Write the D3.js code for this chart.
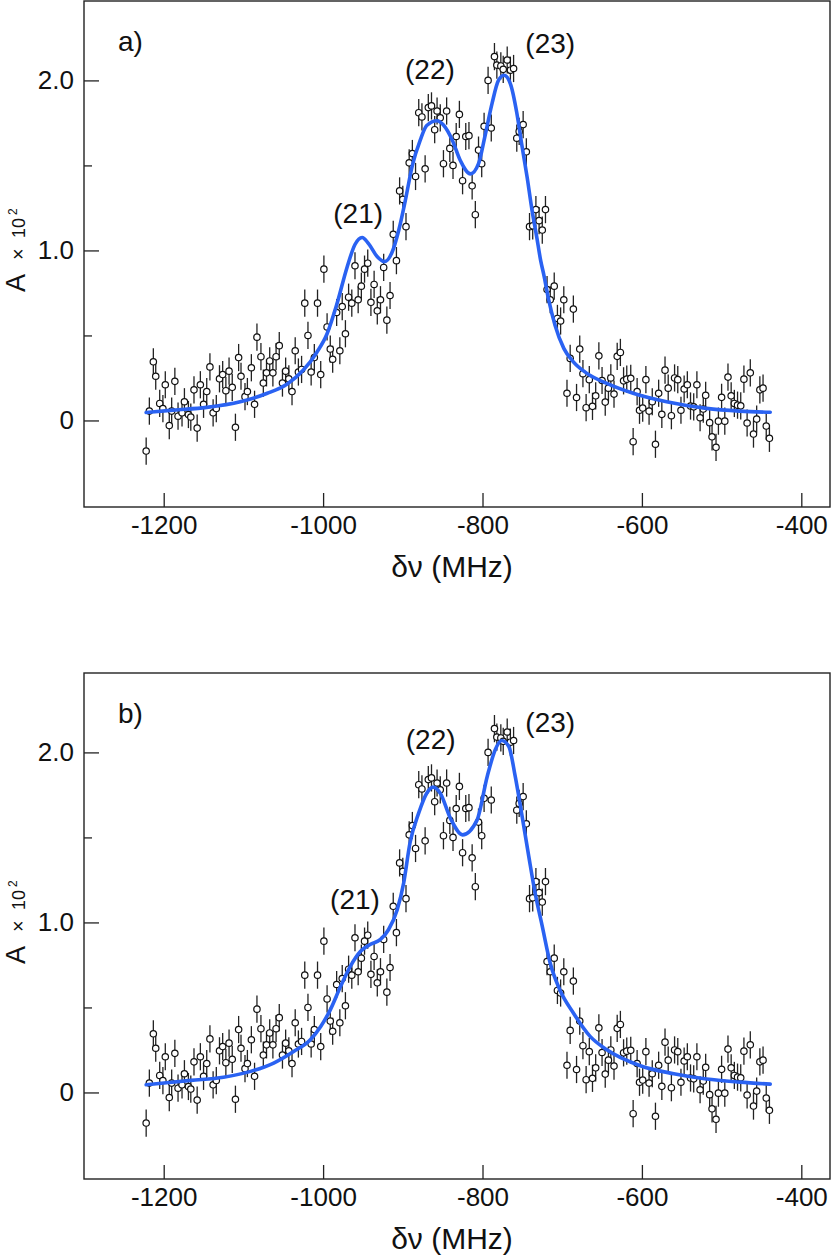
<!DOCTYPE html>
<html>
<head>
<meta charset="utf-8">
<script src="https://cdn.jsdelivr.net/npm/d3@7"></script>
<style>
  html, body { margin: 0; padding: 0; background: #fff; }
  svg { display: block; font-family: "Liberation Sans", Arial, Helvetica, sans-serif; }
</style>
</head>
<body>
<div id="chart"></div>
<script>
// Measured spectrum (same points in both panels): detuning in MHz, amplitude A x 10^2
const freq = [
  -1222, -1218, -1213, -1210, -1205, -1201, -1198, -1193, -1190, -1186,
  -1182, -1177, -1174, -1169, -1166, -1162, -1158, -1154, -1150, -1146,
  -1142, -1138, -1134, -1130, -1126, -1122, -1118, -1114, -1110, -1106,
  -1103, -1098, -1095, -1090, -1086, -1083, -1078, -1075, -1071, -1067,
  -1063, -1059, -1055, -1051, -1047, -1043, -1039, -1035, -1031, -1027,
  -1023, -1019, -1015, -1011, -1007, -1003, -999, -995, -991, -988,
  -983, -979, -976, -972, -968, -964, -960, -956, -952, -948,
  -944, -940, -936, -932, -928, -924, -920, -916, -912, -908,
  -904, -900, -896, -892, -888, -884, -880, -876, -872, -868,
  -864, -860, -857, -853, -849, -845, -841, -837, -833, -829,
  -825, -821, -817, -813, -809, -805, -801, -798, -793, -789,
  -785, -782, -777, -774, -769, -765, -761, -757, -754, -749,
  -745, -741, -737, -733, -729, -725, -721, -719, -715, -710,
  -706, -702, -698, -694, -690, -686, -682, -678, -674, -670,
  -666, -662, -658, -654, -650, -646, -642, -639, -635, -631,
  -627, -623, -619, -614, -611, -606, -603, -599, -595, -591,
  -587, -583, -579, -575, -571, -567, -563, -559, -555, -551,
  -547, -543, -539, -535, -531, -527, -523, -520, -515, -512,
  -507, -504, -500, -496, -492, -488, -484, -480, -476, -472,
  -468, -464, -460, -456, -452, -448, -444, -440
];
const amp = [
  -0.18, 0.055, 0.345, 0.26, 0.10, 0.07, 0.21, -0.03, 0.055, 0.23,
  0.025, 0.045, 0.11, 0.035, 0.02, 0.18, -0.045, 0.21, 0.095, 0.17,
  0.315, 0.045, 0.07, 0.245, 0.27, 0.175, 0.29, 0.195, -0.04, 0.37,
  0.26, 0.14, 0.17, 0.31, 0.095, 0.49, 0.375, 0.22, 0.28, 0.35,
  0.28, 0.375, 0.44, 0.22, 0.29, 0.245, 0.17, 0.41, 0.285, 0.30,
  0.69, 0.50, 0.285, 0.37, 0.69, 0.27, 0.89, 0.55, 0.42, 0.36,
  0.635, 0.41, 0.67, 0.51, 0.725, 0.69, 0.91, 0.71, 0.79, 0.89,
  0.925, 0.695, 0.80, 0.645, 0.71, 0.90, 0.59, 0.735, 1.095, 0.94,
  1.35, 1.30, 1.14, 1.515, 1.57, 1.435, 1.81, 1.785, 1.48, 1.84,
  1.85, 1.71, 1.82, 1.78, 1.51, 1.82, 1.60, 1.50, 1.67, 1.80,
  1.41, 1.67, 1.675, 1.38, 1.21, 1.59, 1.51, 1.73, 2.00, 1.72,
  2.14, 2.09, 2.085, 2.065, 2.12, 2.06, 2.07, 1.66, 1.70, 1.74,
  1.58, 1.14, 1.145, 1.24, 1.175, 1.12, 1.24, 0.77, 0.71, 0.79,
  0.60, 0.585, 0.71, 0.16, 0.365, 0.655, 0.135, 0.42, 0.275, 0.075,
  0.24, 0.083, 0.145, 0.38, 0.235, 0.108, 0.19, 0.25, 0.155, 0.377,
  0.40, 0.233, 0.243, 0.248, -0.125, 0.17, 0.06, 0.073, 0.24, 0.055,
  0.11, -0.14, 0.16, 0.036, 0.296, 0.19, 0.028, 0.25, 0.24, 0.06,
  0.185, 0.21, 0.085, 0.08, 0.21, 0.016, 0.067, 0.148, -0.013, -0.096,
  -0.158, -0.004, 0.136, -0.004, 0.255, 0.145, 0.10, 0.09, 0.086, 0.243,
  -0.015, 0.28, -0.08, 0.008, 0.18, 0.19, -0.033, -0.105
];
const errHalf = 0.08; // half length of the error bars, in A units

// Fitted curves
const fitFreqA = [-1222, -1188, -1146, -1104, -1070, -1045, -1025, -1008, -995, -983,
  -970, -960, -951, -943, -932, -923, -914, -905, -897, -888,
  -878, -870, -857, -849, -838, -828, -815, -805, -797, -788,
  -780, -773, -765, -757, -751, -744, -738, -732, -727, -723,
  -717, -709, -698, -686, -669, -644, -611, -569, -519, -477, -439];
const fitAmpA = [0.047, 0.061, 0.077, 0.11, 0.16, 0.215, 0.295, 0.40, 0.51, 0.68,
  0.90, 1.035, 1.076, 1.04, 0.963, 0.934, 0.983, 1.12, 1.29, 1.50,
  1.65, 1.735, 1.763, 1.738, 1.65, 1.53, 1.45, 1.51, 1.67, 1.865,
  2.0, 2.03, 1.98, 1.81, 1.63, 1.43, 1.24, 1.08, 0.94, 0.855,
  0.71, 0.56, 0.424, 0.345, 0.277, 0.218, 0.16, 0.11, 0.071, 0.055, 0.048];

const fitFreqB = [-1222, -1166, -1125, -1091, -1062, -1037, -1016, -1003, -991, -978,
  -966, -953, -941, -928, -918, -907, -899, -891, -880, -870,
  -862, -853, -840, -825, -807, -794, -784, -776, -767, -759,
  -751, -742, -734, -725, -715, -703, -686, -665, -644, -602,
  -560, -519, -477, -439];
const fitAmpB = [0.045, 0.071, 0.09, 0.124, 0.173, 0.241, 0.31, 0.388, 0.486, 0.624,
  0.74, 0.83, 0.87, 0.90, 0.957, 1.075, 1.23, 1.467, 1.644, 1.76,
  1.796, 1.76, 1.61, 1.515, 1.60, 1.86, 2.016, 2.07, 2.035, 1.86,
  1.644, 1.39, 1.173, 0.977, 0.76, 0.604, 0.467, 0.33, 0.251, 0.157,
  0.11, 0.079, 0.061, 0.049];

// Peak labels, anchored in data units (centre, baseline)
const peakNames = ['(21)', '(22)', '(23)'];
const peakFreqA = [-956, -866, -715];
const peakAmpA = [1.16, 2.01, 2.16];
const peakFreqB = [-960, -865, -715];
const peakAmpB = [1.08, 2.02, 2.12];

const xTicks = [-1200, -1000, -800, -600, -400];
const yTicks = [0, 1, 2];
const yTickLabels = ['0', '1.0', '2.0'];
const yMinorTicks = [0.5, 1.5];

// ---- layout ----
const width = 832, height = 1258;
const left = 84, right = 830;
const blue = '#2a62f2';
const ink = '#222';
const font = '"Liberation Sans", Arial, sans-serif';

const panels = [
  { tag: 'a)', top: 1, bottom: 507, fitF: fitFreqA, fitY: fitAmpA, pF: peakFreqA, pA: peakAmpA },
  { tag: 'b)', top: 673, bottom: 1179, fitF: fitFreqB, fitY: fitAmpB, pF: peakFreqB, pA: peakAmpB }
];

const svg = d3.select('#chart').append('svg')
  .attr('width', width)
  .attr('height', height);

const x = d3.scaleLinear().domain([-1300, -364]).range([left, right]);

const points = freq.map((f, i) => ({ f, a: amp[i] }));

panels.forEach(p => {
  const y = d3.scaleLinear().domain([-0.509, 2.467]).range([p.bottom, p.top]);
  const g = svg.append('g');

  // x axis: ticks point up into the plot
  const xAxis = g.append('g')
    .attr('transform', `translate(0,${p.bottom})`)
    .call(d3.axisBottom(x).tickValues(xTicks).tickSize(-14).tickPadding(9)
      .tickFormat(d => String(d)));
  xAxis.select('.domain').remove();
  xAxis.selectAll('line').attr('stroke', ink).attr('stroke-width', 1.3);
  xAxis.selectAll('text').attr('font-size', 26).attr('fill', '#111')
    .attr('font-family', font);

  // y axis: major and minor ticks
  const yAxis = g.append('g')
    .attr('transform', `translate(${left},0)`)
    .call(d3.axisLeft(y).tickValues(yTicks).tickSize(-15).tickPadding(10)
      .tickFormat((d, i) => yTickLabels[i]));
  yAxis.select('.domain').remove();
  yAxis.selectAll('line').attr('stroke', ink).attr('stroke-width', 1.3);
  yAxis.selectAll('text').attr('font-size', 26).attr('fill', '#111')
    .attr('font-family', font);

  const yMinor = g.append('g')
    .attr('transform', `translate(${left},0)`)
    .call(d3.axisLeft(y).tickValues(yMinorTicks).tickSize(-8).tickFormat(''));
  yMinor.select('.domain').remove();
  yMinor.selectAll('line').attr('stroke', ink).attr('stroke-width', 1.3);

  // frame
  g.append('rect')
    .attr('x', left).attr('y', p.top)
    .attr('width', right - left).attr('height', p.bottom - p.top)
    .attr('fill', 'none').attr('stroke', ink).attr('stroke-width', 1.4);

  // error bars
  g.append('g').selectAll('line')
    .data(points)
    .join('line')
    .attr('x1', d => x(d.f)).attr('x2', d => x(d.f))
    .attr('y1', d => y(d.a - errHalf)).attr('y2', d => y(d.a + errHalf))
    .attr('stroke', ink).attr('stroke-width', 1.3);

  // open markers
  g.append('g').selectAll('circle')
    .data(points)
    .join('circle')
    .attr('cx', d => x(d.f)).attr('cy', d => y(d.a))
    .attr('r', 3.2)
    .attr('fill', '#fff').attr('stroke', '#111').attr('stroke-width', 1.2);

  // fitted curve
  const line = d3.line()
    .x(d => x(d[0]))
    .y(d => y(d[1]))
    .curve(d3.curveMonotoneX);
  g.append('path')
    .datum(p.fitF.map((f, i) => [f, p.fitY[i]]))
    .attr('d', line)
    .attr('fill', 'none')
    .attr('stroke', blue)
    .attr('stroke-width', 3.6)
    .attr('stroke-linejoin', 'round')
    .attr('stroke-linecap', 'round');

  // peak labels
  peakNames.forEach((name, i) => {
    g.append('text')
      .attr('x', x(p.pF[i])).attr('y', y(p.pA[i]))
      .attr('text-anchor', 'middle')
      .attr('font-size', 28).attr('fill', '#111')
      .text(name);
  });

  // panel tag
  g.append('text')
    .attr('x', 118).attr('y', p.top + 50)
    .attr('font-size', 28).attr('fill', '#111')
    .text(p.tag);

  // x title
  g.append('text')
    .attr('x', 452).attr('y', p.bottom + 70)
    .attr('text-anchor', 'middle')
    .attr('font-size', 30).attr('fill', '#111')
    .text('δν (MHz)');

  // y title: A ×10², rotated
  const base = p.top + 291;
  const yt = g.append('text')
    .attr('transform', 'rotate(-90)')
    .attr('fill', '#111');
  yt.append('tspan').attr('x', -base).attr('y', 25).attr('font-size', 27).text('A');
  yt.append('tspan').attr('x', -base + 32).attr('y', 25).attr('font-size', 20).text('×');
  yt.append('tspan').attr('x', -base + 54).attr('y', 25).attr('font-size', 18).text('10');
  yt.append('tspan').attr('x', -base + 77).attr('y', 17).attr('font-size', 12).text('2');
});
</script>
</body>
</html>
